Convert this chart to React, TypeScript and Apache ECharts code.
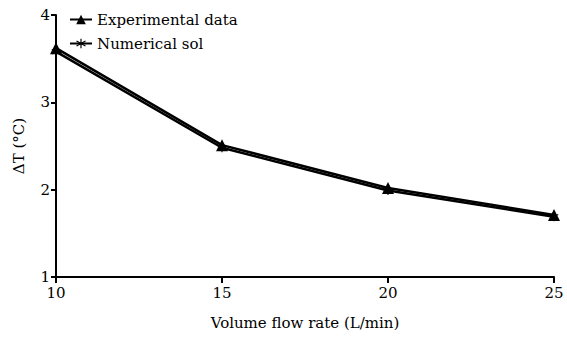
import React, { useEffect, useRef } from "react";
import * as echarts from "echarts";

const flowRates = [10, 15, 20, 25];
const experimental = [3.62, 2.51, 2.02, 1.71];
const numerical = [3.58, 2.48, 1.99, 1.69];
const seriesNames = ["Experimental data", "Numerical sol"];

const FONT = "DejaVu Serif";
const asterisk =
  "path://M4.5,0 L5.5,0 L5.5,3.6 L8.6,1.8 L9.1,2.7 L6,4.5 L9.1,6.3 L8.6,7.2 L5.5,5.4 L5.5,9 L4.5,9 L4.5,5.4 L1.4,7.2 L0.9,6.3 L4,4.5 L0.9,2.7 L1.4,1.8 L4.5,3.6 Z";

export default function App() {
  const ref = useRef<HTMLDivElement>(null);
  useEffect(() => {
    if (!ref.current) return;
    const chart = echarts.init(ref.current, undefined, { renderer: "svg" });
    chart.setOption({
      animation: false,
      backgroundColor: "#ffffff",
      textStyle: { fontFamily: FONT },
      grid: { left: 56, right: 13, top: 15, bottom: 60 },
      legend: {
        orient: "vertical",
        left: 64,
        top: 7,
        itemWidth: 22,
        itemHeight: 12,
        itemGap: 9,
        data: seriesNames,
        textStyle: { fontFamily: FONT, fontSize: 15, color: "#000" },
      },
      xAxis: {
        type: "value",
        min: 10,
        max: 25,
        interval: 5,
        name: "Volume flow rate (L/min)",
        nameLocation: "middle",
        nameGap: 38,
        nameTextStyle: { fontFamily: FONT, fontSize: 15, color: "#000" },
        axisLine: { lineStyle: { color: "#000", width: 2 } },
        axisTick: { show: true, length: 6, lineStyle: { color: "#000", width: 2 } },
        axisLabel: { fontFamily: FONT, fontSize: 15, color: "#000", margin: 8 },
        splitLine: { show: false },
      },
      yAxis: {
        type: "value",
        min: 1,
        max: 4,
        interval: 1,
        name: "ΔT (°C)",
        nameLocation: "middle",
        nameGap: 30,
        nameRotate: 90,
        nameTextStyle: { fontFamily: FONT, fontSize: 15, color: "#000" },
        axisLine: { show: true, lineStyle: { color: "#000", width: 2 } },
        axisTick: { show: true, length: 5, lineStyle: { color: "#000", width: 2 } },
        axisLabel: { fontFamily: FONT, fontSize: 15, color: "#000", margin: 6 },
        splitLine: { show: false },
      },
      series: [
        {
          name: seriesNames[0],
          type: "line",
          data: flowRates.map((x, i) => [x, experimental[i]]),
          symbol: "triangle",
          symbolSize: 12,
          showAllSymbol: true,
          itemStyle: { color: "#000" },
          lineStyle: { color: "#000", width: 2.5 },
        },
        {
          name: seriesNames[1],
          type: "line",
          data: flowRates.map((x, i) => [x, numerical[i]]),
          symbol: asterisk,
          symbolSize: 9,
          itemStyle: { color: "#000" },
          lineStyle: { color: "#000", width: 2.5 },
        },
      ],
    });
    return () => chart.dispose();
  }, []);
  return <div ref={ref} style={{ width: 567, height: 337, position: "absolute", left: 0, top: 0 }} />;
}
